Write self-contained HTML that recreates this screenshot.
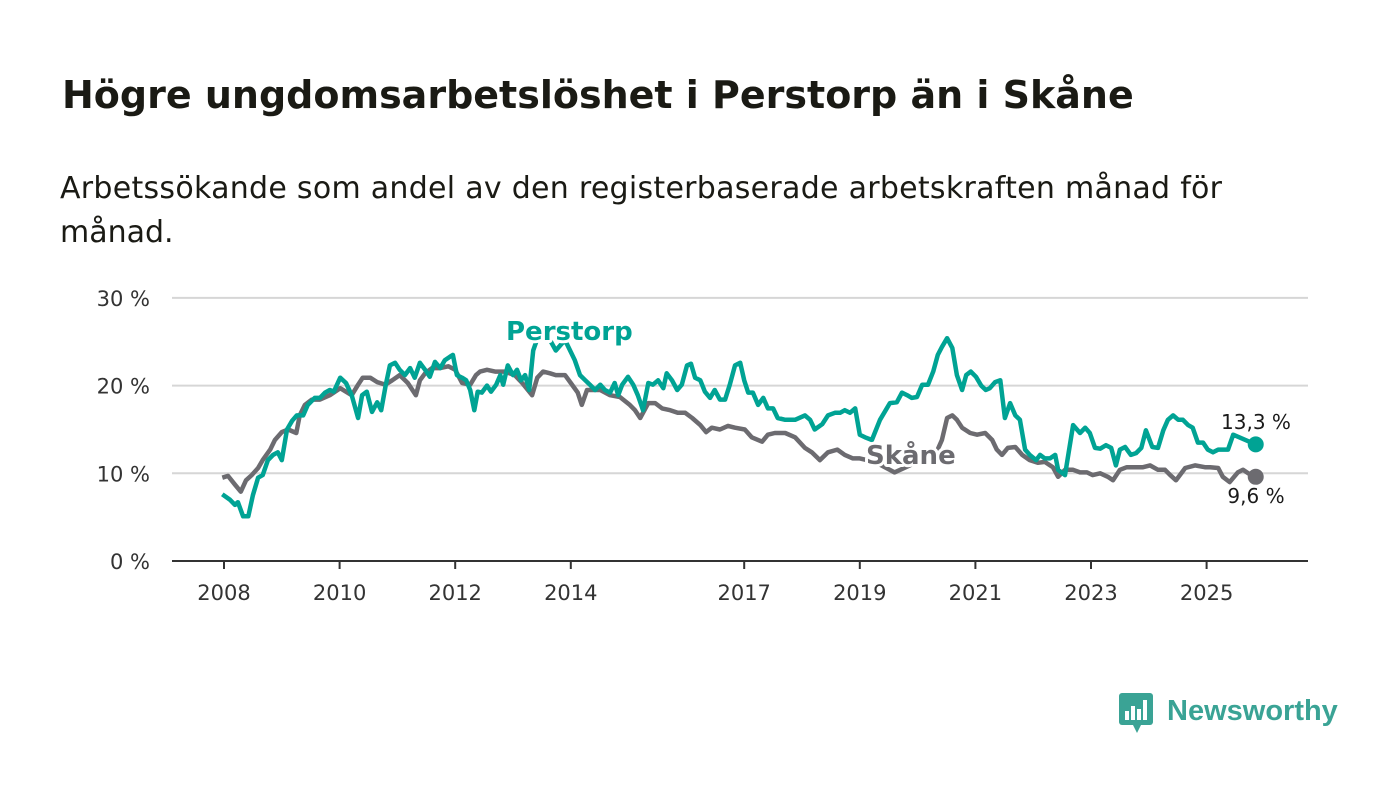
<!DOCTYPE html>
<html><head><meta charset="utf-8"><style>
body{margin:0;background:#fff;width:1400px;height:794px;overflow:hidden;font-family:"Liberation Sans","DejaVu Sans",sans-serif;}
svg text{font-family:"DejaVu Sans","Liberation Sans",sans-serif;}
</style></head><body>
<svg width="1400" height="794">
<text x="62" y="108" font-size="38" font-weight="bold" fill="#1a1a14">Högre ungdomsarbetslöshet i Perstorp än i Skåne</text>
<text x="60" y="198" font-size="30" fill="#1a1a14" textLength="1162">Arbetssökande som andel av den registerbaserade arbetskraften månad för</text>
<text x="60" y="242" font-size="30" fill="#1a1a14">månad.</text>
<g id="grid"></g><g id="xaxis"></g><g id="lines"></g><g id="labels"></g>
<g>
<rect x="1119" y="693" width="34" height="32" rx="3" fill="#3aa395"/>
<polygon points="1133,725 1141,725 1137,733" fill="#3aa395"/>
<rect x="1125" y="711" width="4" height="9" fill="#fff"/><rect x="1131" y="706" width="4" height="14" fill="#fff"/><rect x="1137" y="709" width="4" height="11" fill="#fff"/><rect x="1143" y="700" width="4" height="20" fill="#fff"/>
<text x="1167" y="720" font-size="29" font-weight="bold" fill="#3aa395" style="font-family:'Liberation Sans',sans-serif">Newsworthy</text>
</g>
</svg>
<script>
const yTicks=[0,10,20,30];
const xTicks=[2008,2010,2012,2014,2017,2019,2021,2023,2025];
const perstorpYears=[2007.97,2008.10,2008.19,2008.24,2008.33,2008.42,2008.50,2008.59,2008.67,2008.76,2008.85,2008.93,2009.00,2009.09,2009.18,2009.26,2009.37,2009.45,2009.57,2009.66,2009.75,2009.83,2009.90,2010.01,2010.11,2010.21,2010.32,2010.39,2010.47,2010.56,2010.65,2010.72,2010.80,2010.87,2010.96,2011.04,2011.13,2011.22,2011.30,2011.39,2011.48,2011.56,2011.65,2011.74,2011.82,2011.91,2011.96,2012.03,2012.12,2012.19,2012.26,2012.33,2012.39,2012.46,2012.55,2012.62,2012.71,2012.78,2012.83,2012.91,2013.00,2013.07,2013.14,2013.21,2013.28,2013.35,2013.47,2013.64,2013.74,2013.90,2014.07,2014.16,2014.25,2014.33,2014.42,2014.51,2014.59,2014.68,2014.76,2014.82,2014.89,2014.99,2015.08,2015.16,2015.25,2015.34,2015.42,2015.51,2015.60,2015.66,2015.75,2015.84,2015.92,2016.01,2016.08,2016.15,2016.24,2016.32,2016.41,2016.49,2016.58,2016.67,2016.75,2016.84,2016.93,2017.00,2017.07,2017.15,2017.24,2017.33,2017.41,2017.50,2017.58,2017.71,2017.88,2018.05,2018.14,2018.22,2018.35,2018.45,2018.57,2018.66,2018.74,2018.83,2018.92,2019.00,2019.09,2019.21,2019.35,2019.52,2019.64,2019.73,2019.82,2019.90,2019.99,2020.08,2020.18,2020.27,2020.35,2020.42,2020.51,2020.60,2020.68,2020.77,2020.84,2020.92,2021.01,2021.10,2021.18,2021.25,2021.34,2021.43,2021.51,2021.60,2021.69,2021.77,2021.86,2021.94,2022.05,2022.12,2022.20,2022.29,2022.38,2022.43,2022.55,2022.69,2022.81,2022.90,2022.98,2023.07,2023.16,2023.26,2023.35,2023.43,2023.50,2023.59,2023.69,2023.78,2023.87,2023.95,2024.06,2024.16,2024.25,2024.33,2024.42,2024.51,2024.59,2024.68,2024.76,2024.85,2024.94,2025.02,2025.11,2025.20,2025.28,2025.37,2025.46,2025.85];
const perstorpValues=[7.6,7.0,6.4,6.7,5.1,5.1,7.5,9.5,9.8,11.5,12.1,12.4,11.5,15.0,16.0,16.6,16.6,17.8,18.6,18.6,19.2,19.5,19.3,20.9,20.3,18.9,16.3,18.9,19.3,17.0,18.1,17.2,20.1,22.3,22.6,21.8,21.2,22.0,20.9,22.6,21.8,21.0,22.7,22.0,22.9,23.3,23.5,21.2,20.9,20.6,19.5,17.2,19.3,19.2,20.0,19.3,20.1,21.2,20.1,22.3,21.2,21.8,20.6,21.2,19.5,24.0,26.3,25.2,24.0,25.2,22.9,21.2,20.6,20.1,19.5,20.1,19.5,19.2,20.3,18.9,20.1,21.0,20.1,18.9,17.2,20.3,20.1,20.6,19.7,21.4,20.6,19.5,20.1,22.3,22.5,20.9,20.6,19.3,18.6,19.5,18.4,18.4,20.1,22.3,22.6,20.6,19.2,19.2,17.8,18.6,17.4,17.4,16.3,16.1,16.1,16.6,16.1,15.0,15.6,16.6,16.9,16.9,17.2,16.9,17.4,14.4,14.1,13.8,16.1,18.0,18.1,19.2,18.9,18.6,18.7,20.1,20.1,21.6,23.5,24.4,25.4,24.3,21.2,19.5,21.2,21.6,21.0,20.0,19.5,19.7,20.4,20.6,16.3,18.0,16.6,16.1,12.7,12.1,11.5,12.1,11.7,11.7,12.1,10.4,9.8,15.5,14.6,15.2,14.6,12.9,12.8,13.2,12.9,10.9,12.7,13.0,12.1,12.3,12.9,14.9,13.0,12.9,14.9,16.1,16.6,16.1,16.1,15.5,15.2,13.5,13.5,12.7,12.4,12.7,12.7,12.7,14.4,13.3];
const skaneYears=[2007.97,2008.07,2008.19,2008.29,2008.38,2008.48,2008.59,2008.67,2008.80,2008.88,2009.00,2009.11,2009.25,2009.31,2009.40,2009.52,2009.66,2009.83,2010.01,2010.21,2010.32,2010.40,2010.53,2010.65,2010.79,2010.91,2011.04,2011.18,2011.32,2011.39,2011.48,2011.60,2011.74,2011.88,2012.00,2012.12,2012.26,2012.36,2012.43,2012.55,2012.69,2012.86,2013.03,2013.16,2013.33,2013.42,2013.52,2013.64,2013.74,2013.90,2014.00,2014.12,2014.19,2014.28,2014.36,2014.51,2014.68,2014.85,2015.02,2015.11,2015.20,2015.34,2015.46,2015.58,2015.72,2015.85,2015.98,2016.10,2016.24,2016.34,2016.44,2016.58,2016.72,2016.84,2017.01,2017.13,2017.31,2017.41,2017.53,2017.71,2017.88,2018.05,2018.17,2018.31,2018.45,2018.61,2018.74,2018.88,2019.00,2019.26,2019.60,2019.90,2020.30,2020.42,2020.51,2020.60,2020.68,2020.77,2020.91,2021.03,2021.17,2021.29,2021.37,2021.46,2021.56,2021.69,2021.81,2021.94,2022.08,2022.20,2022.34,2022.43,2022.55,2022.69,2022.81,2022.93,2023.03,2023.16,2023.29,2023.38,2023.50,2023.62,2023.76,2023.90,2024.02,2024.16,2024.28,2024.37,2024.47,2024.63,2024.80,2024.97,2025.06,2025.20,2025.28,2025.40,2025.54,2025.63,2025.72,2025.85];
const skaneValues=[9.5,9.7,8.7,7.9,9.2,9.8,10.6,11.5,12.7,13.8,14.7,15.0,14.6,16.6,17.8,18.4,18.4,18.9,19.7,18.9,20.1,20.9,20.9,20.4,20.1,20.6,21.2,20.3,18.9,20.6,21.4,22.0,22.0,22.2,21.8,20.3,20.1,21.2,21.6,21.8,21.6,21.6,21.2,20.3,18.9,20.9,21.6,21.4,21.2,21.2,20.3,19.2,17.8,19.5,19.5,19.5,18.9,18.7,17.8,17.2,16.3,18.0,18.0,17.4,17.2,16.9,16.9,16.3,15.5,14.7,15.2,15.0,15.4,15.2,15.0,14.1,13.6,14.4,14.6,14.6,14.1,12.9,12.4,11.5,12.4,12.7,12.1,11.7,11.7,11.3,10.1,11.0,12.0,13.8,16.3,16.6,16.1,15.2,14.6,14.4,14.6,13.8,12.7,12.1,12.9,13.0,12.1,11.5,11.2,11.3,10.7,9.6,10.4,10.4,10.1,10.1,9.8,10.0,9.6,9.2,10.4,10.7,10.7,10.7,10.9,10.4,10.4,9.8,9.2,10.6,10.9,10.7,10.7,10.6,9.6,9.0,10.1,10.4,10.0,9.6,9.6];
const NS="http://www.w3.org/2000/svg";
const X0=224,XS=57.8,Y0=561,YS=8.77;
function xs(v){return X0+(v-2008)*XS;}
function ys(v){return Y0-v*YS;}
function mk(t,a,p){const e=document.createElementNS(NS,t);for(const k in a)e.setAttribute(k,a[k]);p.appendChild(e);return e;}
const grid=document.getElementById('grid');
yTicks.forEach(v=>{
 const l=mk('line',{x1:172,x2:1308,y1:ys(v),y2:ys(v),stroke:v===0?'#333':'#d6d6d6','stroke-width':2},grid);
 
 
 const t=mk('text',{x:150,y:ys(v)+8,'font-size':21,'text-anchor':'end',fill:'#333'},grid);
 t.textContent=v+' %';
 
 
});
const xa=document.getElementById('xaxis');
xTicks.forEach(v=>{
 const l=mk('line',{x1:xs(v),x2:xs(v),y1:561,y2:569,stroke:'#333','stroke-width':2},xa);
 
 
 const t=mk('text',{x:xs(v),y:600,'font-size':21,'text-anchor':'middle',fill:'#333'},xa);
 t.textContent=v;
 
 
});
const lg=document.getElementById('lines');
function series(yrs,vals,col,name){
 const n=Math.min(yrs.length,vals.length);
 let d='';
 for(let i=0;i<n;i++) d+=(i?'L':'M')+xs(yrs[i]).toFixed(1)+','+ys(vals[i]).toFixed(1);
 const p=mk('path',{d:d,fill:'none',stroke:col,'stroke-width':4.5,'stroke-linejoin':'round'},lg);
 
 
 const c=mk('circle',{cx:xs(yrs[n-1]),cy:ys(vals[n-1]),r:8,fill:col},lg);
 
 
}
series(skaneYears,skaneValues,'#6c6b70','skane');
series(perstorpYears,perstorpValues,'#00a394','perstorp');
const lb=document.getElementById('labels');
function lab(x,y,txt,col,sz,bold,anchor,name){
 const t=mk('text',{x:x,y:y,'font-size':sz,'font-weight':bold?'bold':'normal',fill:col,'text-anchor':anchor,stroke:'#fff','stroke-width':6,'paint-order':'stroke','stroke-linejoin':'round'},lb);
 t.textContent=txt;
 
 
}
lab(506,340,'Perstorp','#00a394',26,true,'start','perstorp-series-label');
lab(866,464,'Skåne','#6c6b70',26,true,'start','skane-series-label');
const pl=perstorpValues[perstorpValues.length-1], sl=skaneValues[skaneValues.length-1];
lab(1256,429,pl.toFixed(1).replace('.',',')+' %','#1a1a1a',20,false,'middle','perstorp-last-value');
lab(1256,503,sl.toFixed(1).replace('.',',')+' %','#1a1a1a',20,false,'middle','skane-last-value');
</script>
</body></html>
